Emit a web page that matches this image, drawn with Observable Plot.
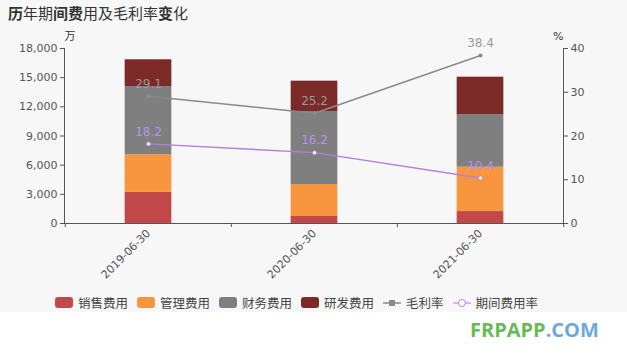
<!DOCTYPE html>
<html>
<head>
<meta charset="utf-8">
<script src="https://cdn.jsdelivr.net/npm/d3@7"></script>
<script src="https://cdn.jsdelivr.net/npm/@observablehq/plot@0.6"></script>
<style>
  html, body { margin: 0; padding: 0; background: #fff; }
  body { width: 627px; height: 355px; position: relative; overflow: hidden;
         font-family: "Noto Sans CJK SC", "Noto Sans", sans-serif; }
  #panel { position: absolute; left: 0; top: 0; width: 627px; height: 312px; background: #f7f7f8; }
  #title { position: absolute; left: 8px; top: 2px; font-size: 15px; color: #333; letter-spacing: 0px; }
  #title b { font-weight: 700; }
  #chart { position: absolute; left: 0; top: 24px; }
  #legend { position: absolute; left: 55px; top: 293px; display: flex; align-items: center;
            font-size: 12.5px; color: #444; white-space: nowrap; }
  .item { display: flex; align-items: center; margin-right: 9px; }
  .sw { width: 18px; height: 11px; border-radius: 3px; margin-right: 5px; }
  .ls { width: 18px; margin-right: 5px; }
  #wm { position: absolute; left: 470px; top: 316px; font-family: "Open Sans", sans-serif;
        font-weight: 700; font-size: 20px; letter-spacing: 0px; }
</style>
</head>
<body>
<div id="panel"></div>
<div id="title"><b>历</b>年期<b>间费</b>用及毛利率<b>变</b>化</div>
<div id="chart"></div>
<div id="legend"></div>
<div id="wm"><span style="color:#67bb57">FRPAPP</span><span style="color:#6fa8d8">.COM</span></div>
<script>
const dates = ["2019-06-30", "2020-06-30", "2021-06-30"];
const seriesNames = ["销售费用", "管理费用", "财务费用", "研发费用"];
const sales = [3200, 720, 1230];
const admin = [3870, 3290, 4560];
const finance = [7020, 7510, 5420];
const rnd = [2750, 3120, 3840];
const grossMargin = [29.1, 25.2, 38.4];
const expenseRate = [18.2, 16.2, 10.4];
const leftTicks = [0, 3000, 6000, 9000, 12000, 15000, 18000];
const rightTicks = [0, 10, 20, 30, 40];
const lineNames = ["毛利率", "期间费用率"];

const barColors = ["#c1494a", "#f7963f", "#7f7f7f", "#7b2a28"];
const gmColor = "#8a8a8a";
const erColor = "#b27fe0";

const yMax = 18000, rMax = 40, k = yMax / rMax;

const seriesValues = [sales, admin, finance, rnd];
const stackRows = [];
dates.forEach((d, i) => seriesNames.forEach((s, j) => stackRows.push({date: d, type: s, value: seriesValues[j][i]})));
const gmRows = dates.map((d, i) => ({date: d, v: grossMargin[i]}));
const erRows = dates.map((d, i) => ({date: d, v: expenseRate[i]}));

const W = 627, H = 261, mL = 64, mR = 64, mT = 24, mB = 62;
const half = (W - mL - mR) / dates.length / 2;
const inset = half - 23.5;

const chart = Plot.plot({
  width: W, height: H,
  marginLeft: mL, marginRight: mR, marginTop: mT, marginBottom: mB,
  style: {background: "transparent", fontSize: "11px", color: "#555", fontFamily: "'DejaVu Sans', sans-serif"},
  x: {type: "band", domain: dates, padding: 0},
  y: {domain: [0, yMax]},
  color: {domain: seriesNames, range: barColors},
  marks: [
    Plot.barY(stackRows, {x: "date", y: "value", fill: "type", insetLeft: inset, insetRight: inset}),
    Plot.axisY({ticks: leftTicks, tickFormat: d3.format(","), tickSize: 4, tickPadding: 3, label: null, stroke: "#555"}),
    Plot.axisY(rightTicks.map(v => v * k), {anchor: "right", tickFormat: d => String(d / k), tickSize: 4, tickPadding: 3, label: null, stroke: "#555"}),
    Plot.axisX({tickRotate: -45, tickSize: 0, tickPadding: 8, label: null}),
    Plot.frame({anchor: "left", stroke: "#555"}),
    Plot.frame({anchor: "right", stroke: "#555"}),
    Plot.ruleY([0], {stroke: "#555"}),
    Plot.ruleX(dates, {x: d => d, dx: -half, y1: 0, y2: 0, insetBottom: -4, stroke: "#555"}),
    Plot.ruleX(dates.slice(-1), {x: d => d, dx: half, y1: 0, y2: 0, insetBottom: -4, stroke: "#555"}),
    Plot.text(["万"], {frameAnchor: "top-left", dy: -16, fontSize: 11, fill: "#333", fontFamily: "'Noto Sans CJK SC', sans-serif"}),
    Plot.text(["%"], {frameAnchor: "top-right", dy: -16, fontSize: 11, fill: "#333"}),
    Plot.line(gmRows, {x: "date", y: d => d.v * k, stroke: gmColor, strokeWidth: 1.5}),
    Plot.dot(gmRows, {x: "date", y: d => d.v * k, r: 2, fill: gmColor}),
    Plot.line(erRows, {x: "date", y: d => d.v * k, stroke: erColor, strokeWidth: 1.5}),
    Plot.dot(erRows, {x: "date", y: d => d.v * k, r: 2, fill: "#fff", stroke: erColor, strokeWidth: 0.8}),
    Plot.text(gmRows, {x: "date", y: d => d.v * k, text: d => d.v.toFixed(1), dy: -12, fill: "#9a9a9a", fontSize: 12}),
    Plot.text(erRows, {x: "date", y: d => d.v * k, text: d => d.v.toFixed(1), dy: -12, fill: "#b892e6", fontSize: 12})
  ]
});
document.getElementById("chart").appendChild(chart);

const legend = document.getElementById("legend");
seriesNames.forEach((s, i) => {
  const it = document.createElement("div"); it.className = "item";
  it.innerHTML = `<div class="sw" style="background:${barColors[i]}"></div><span>${s}</span>`;
  legend.appendChild(it);
});
const sym = [
  `<svg class="ls" width="18" height="10" viewBox="0 0 18 10"><line x1="0" y1="5" x2="18" y2="5" stroke="${gmColor}" stroke-width="1.5"/><rect x="6" y="2" width="6" height="6" fill="${gmColor}"/></svg>`,
  `<svg class="ls" width="18" height="10" viewBox="0 0 18 10"><line x1="0" y1="5" x2="18" y2="5" stroke="${erColor}" stroke-width="1"/><circle cx="9" cy="5" r="3.5" fill="#fff" stroke="${erColor}" stroke-width="1"/></svg>`
];
lineNames.forEach((s, i) => {
  const it = document.createElement("div"); it.className = "item";
  it.innerHTML = sym[i] + `<span>${s}</span>`;
  legend.appendChild(it);
});
</script>
</body>
</html>
